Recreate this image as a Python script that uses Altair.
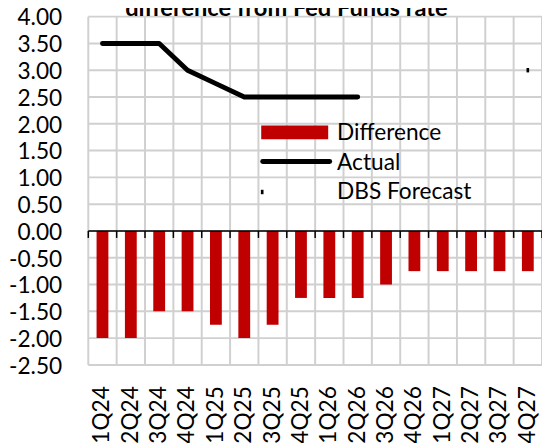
import altair as alt
import pandas as pd

quarters = ["1Q24", "2Q24", "3Q24", "4Q24", "1Q25", "2Q25", "3Q25", "4Q25",
            "1Q26", "2Q26", "3Q26", "4Q26", "1Q27", "2Q27", "3Q27", "4Q27"]
difference = [-2.0, -2.0, -1.5, -1.5, -1.75, -2.0, -1.75, -1.25,
              -1.25, -1.25, -1.0, -0.75, -0.75, -0.75, -0.75, -0.75]
actual_quarters = ["1Q24", "2Q24", "3Q24", "4Q24", "1Q25", "2Q25", "3Q25", "4Q25", "1Q26", "2Q26"]
actual = [3.5, 3.5, 3.5, 3.0, 2.75, 2.5, 2.5, 2.5, 2.5, 2.5]
forecast_quarters = ["4Q27"]
forecast = [3.0]
y_ticks = [-2.5, -2.0, -1.5, -1.0, -0.5, 0.0, 0.5, 1.0, 1.5, 2.0, 2.5, 3.0, 3.5, 4.0]
legend_labels = ["Difference", "Actual", "DBS Forecast"]
title_text = "difference from Fed Funds rate"

FONT = "Lato"
FS = 23
W, H = 460.5, 353.5
GRID = "#d0d0d0"

df_bar = pd.DataFrame({"q": quarters, "v": difference})
df_act = pd.DataFrame({"q": actual_quarters, "v": actual})
df_fc = pd.DataFrame({"q": forecast_quarters, "v": forecast})
df_q = pd.DataFrame({"q": quarters})
df_last = pd.DataFrame({"q": quarters[-1:]})
df_yt = pd.DataFrame({"v": y_ticks})

xscale = alt.Scale(domain=quarters, paddingInner=0, paddingOuter=0)
yscale = alt.Scale(domain=[-2.5, 4.0], nice=False, zero=False)

x_axis = alt.Axis(title=None, labelAngle=270, labelAlign="right",
                  labelBaseline="middle", labelPadding=21, labelFont=FONT,
                  labelFontSize=FS, labelColor="#000000", ticks=False,
                  domain=False, grid=False, labelOverlap=False)
y_axis = alt.Axis(title=None, values=y_ticks, grid=False, domain=False, ticks=False,
                  labelPadding=27, labelFont=FONT, labelFontSize=FS, labelColor="#000000",
                  labelOffset=1.5,
                  labelExpr="replace(format(datum.value, '.2f'), '\u2212', '-')")


def xq(bp=0.5):
    return alt.X("q:N", sort=quarters, scale=xscale, axis=x_axis, bandPosition=bp)


def yv():
    return alt.Y("v:Q", scale=yscale, axis=y_axis)


def yd(val):
    return alt.YDatum(val, type="quantitative", scale=yscale, axis=y_axis)


def y2d(val):
    return alt.Y2Datum(val)


# gridlines drawn as thin filled ticks beneath the bars
hgrid = alt.Chart(df_yt).mark_tick(color=GRID, orient="horizontal", thickness=2,
                                   size=W, opacity=1).encode(y=yv())
vgrid = alt.Chart(df_q).mark_tick(color=GRID, orient="vertical", thickness=2,
                                  size=H, opacity=1).encode(x=xq(0))
vgrid_end = alt.Chart(df_last).mark_tick(color=GRID, orient="vertical", thickness=2,
                                         size=H, opacity=1).encode(x=xq(1))

bars = alt.Chart(df_bar).mark_bar(color="#c00000", size=12).encode(x=xq(), y=yv())

zero_line = alt.Chart(df_last).mark_rule(color="#000000", strokeWidth=1.5).encode(
    x=alt.value(0), x2=alt.value(W), y=yd(0))
zero_ticks = alt.Chart(df_q).mark_rule(color="#000000", strokeWidth=1.5).encode(
    x=xq(0), y=yd(0), y2=y2d(-0.13))
zero_ticks_end = alt.Chart(df_last).mark_rule(color="#000000", strokeWidth=1.5).encode(
    x=xq(1), y=yd(0), y2=y2d(-0.13))

line = alt.Chart(df_act).mark_line(color="#000000", strokeWidth=5, strokeCap="round",
                                   strokeJoin="round").encode(x=xq(), y=yv())

fc = alt.Chart(df_fc).mark_point(filled=True, color="#000000", opacity=1,
                                 shape="M-0.6,-1L0.6,-1L0.6,1L-0.6,1Z", size=20).encode(
    x=xq(), y=yv())

one = alt.Data(values=[{"a": 0}])
leg_rect = alt.Chart(one).mark_rect(color="#c00000").encode(
    x=alt.value(175.5), x2=alt.value(243.5), y=alt.value(110.5), y2=alt.value(124.5))
leg_line = alt.Chart(one).mark_rule(color="#000000", strokeWidth=5, strokeCap="round").encode(
    x=alt.value(177), x2=alt.value(245), y=alt.value(147))
leg_dot = alt.Chart(one).mark_point(filled=True, color="#000000", opacity=1,
                                    shape="M-0.6,-1L0.6,-1L0.6,1L-0.6,1Z", size=20).encode(
    x=alt.value(176.5), y=alt.value(178))


def leg_text(label, ypix):
    return alt.Chart(one).mark_text(align="left", baseline="middle", font=FONT, fontSize=FS,
                                    color="#000000").encode(
        x=alt.value(252.5), y=alt.value(ypix), text=alt.value(label))


title = alt.Chart(one).mark_text(align="center", baseline="alphabetic", font=FONT,
                                 fontSize=24, fontWeight="bold", color="#000000").encode(
    x=alt.value(201), y=alt.value(-1), text=alt.value(title_text))

chart = alt.layer(
    hgrid, vgrid, vgrid_end,
    bars, zero_line, zero_ticks, zero_ticks_end, line, fc,
    leg_rect, leg_line, leg_dot,
    leg_text(legend_labels[0], 118), leg_text(legend_labels[1], 149),
    leg_text(legend_labels[2], 178), title
).properties(
    width=W, height=H,
    autosize=alt.AutoSizeParams(type="none"),
    padding={"left": 81.5, "top": 5.5, "right": 0, "bottom": 76},
).configure_view(stroke=None)

chart.save("out.html", embed_options={"renderer": "svg", "actions": False})
